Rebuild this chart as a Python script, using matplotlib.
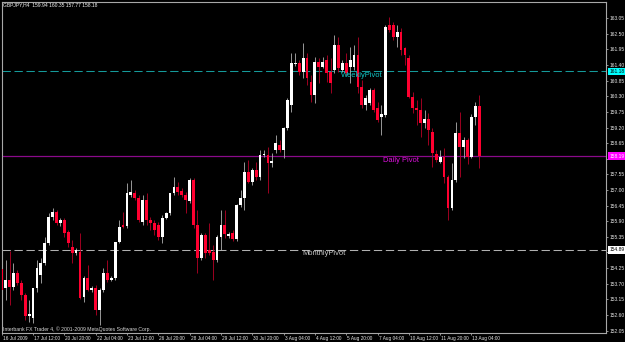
import numpy as np
import matplotlib
matplotlib.use('Agg')
import matplotlib.pyplot as plt
from matplotlib.transforms import ScaledTranslation, blended_transform_factory

# GBPJPY H4 candles (oldest first)
opens = [154.22, 153.55, 153.83, 153.59, 154.08, 153.73, 153.30, 152.56, 152.49, 153.55,
         154.01, 154.43, 155.13, 156.05, 156.23, 155.84, 155.94, 155.52, 154.99, 154.78,
         154.82, 153.23, 153.90, 153.48, 153.55, 152.78, 153.48, 154.08, 153.83, 153.90,
         155.17, 155.77, 155.73, 156.82, 156.90, 156.72, 155.87, 156.65, 155.94, 155.84,
         155.77, 155.35, 156.01, 156.19, 156.90, 157.11, 156.97, 156.82, 156.61, 157.35,
         155.77, 154.61, 155.42, 154.89, 154.82, 154.53, 155.35, 155.77, 155.38, 155.49,
         155.28, 156.47, 156.72, 157.63, 157.28, 157.71, 157.46, 158.23, 158.23, 157.95,
         158.41, 158.59, 158.41, 159.18, 160.00, 161.44, 161.48, 161.16, 161.65, 160.81,
         160.35, 161.51, 161.34, 161.58, 161.16, 161.23, 162.11, 161.23, 161.48, 161.34,
         161.34, 161.76, 160.63, 160.00, 160.07, 160.53, 159.89, 159.57, 159.64, 162.81,
         162.81, 162.39, 162.57, 162.00, 161.65, 160.28, 159.89, 159.82, 159.36, 159.50,
         159.04, 158.27, 157.99, 158.16, 157.46, 156.37, 157.35, 159.01, 158.51, 158.76,
         158.16, 159.57, 159.94]
highs = [154.36, 154.53, 154.85, 154.43, 154.18, 153.83, 153.37, 153.13, 152.70, 154.53,
         154.61, 155.35, 156.19, 156.37, 156.30, 156.01, 156.01, 155.59, 155.24, 154.96,
         155.49, 153.97, 154.36, 153.62, 153.66, 153.55, 154.25, 154.53, 153.97, 154.18,
         155.94, 156.23, 157.25, 157.35, 157.00, 156.82, 156.82, 156.90, 156.05, 155.94,
         155.87, 156.12, 156.23, 156.47, 157.46, 157.28, 157.07, 156.93, 157.42, 157.42,
         156.30, 155.49, 155.49, 155.84, 155.06, 155.42, 156.30, 156.30, 155.52, 155.59,
         156.50, 157.00, 157.99, 158.06, 157.78, 157.99, 158.41, 158.41, 158.51, 158.30,
         158.94, 158.76, 159.22, 160.24, 161.83, 161.83, 161.58, 162.18, 161.83, 161.05,
         161.69, 161.65, 161.69, 161.76, 161.65, 162.46, 162.39, 161.58, 161.83, 162.04,
         162.11, 162.39, 160.88, 160.35, 160.60, 160.60, 160.10, 160.00, 162.81, 163.10,
         162.92, 162.81, 162.71, 162.04, 161.76, 160.45, 160.17, 160.24, 159.82, 159.71,
         159.18, 158.41, 158.41, 158.48, 157.53, 157.95, 159.39, 159.75, 158.87, 158.83,
         159.68, 160.10, 160.35]
lows = [153.41, 153.13, 152.95, 153.48, 153.66, 153.13, 152.42, 152.35, 152.32, 153.41,
        153.73, 154.36, 155.06, 155.94, 155.77, 155.73, 155.35, 154.99, 154.43, 154.71,
        153.17, 153.06, 153.45, 153.41, 152.60, 152.25, 153.41, 153.76, 153.80, 153.83,
        155.13, 155.66, 155.66, 156.75, 156.65, 155.87, 155.77, 155.77, 155.59, 155.42,
        155.24, 155.13, 155.98, 156.12, 156.82, 156.82, 156.75, 156.19, 156.54, 155.66,
        154.08, 154.53, 154.61, 154.71, 153.83, 154.47, 154.89, 155.31, 155.31, 155.20,
        155.20, 156.40, 156.30, 157.25, 157.18, 157.35, 157.35, 158.16, 156.90, 157.81,
        158.30, 158.34, 158.13, 159.11, 159.75, 161.37, 161.05, 160.95, 160.70, 160.10,
        160.07, 160.77, 161.30, 160.81, 160.42, 161.12, 161.16, 161.16, 161.05, 160.77,
        161.23, 160.42, 159.89, 159.82, 160.00, 159.75, 159.39, 158.94, 159.57, 162.57,
        162.29, 162.04, 161.76, 161.41, 160.24, 159.71, 159.29, 158.87, 159.18, 158.59,
        157.81, 157.99, 157.95, 157.25, 155.94, 156.30, 157.28, 157.46, 158.13, 157.92,
        158.13, 159.29, 157.77]
closes = [153.48, 153.83, 153.59, 154.08, 153.73, 153.30, 152.56, 152.63, 153.55, 154.25,
          154.43, 155.13, 156.05, 156.23, 155.84, 155.94, 155.49, 155.13, 154.78, 154.89,
          153.20, 153.90, 153.48, 153.55, 152.78, 153.48, 154.08, 153.83, 153.90, 155.17,
          155.70, 155.70, 156.90, 156.93, 156.72, 155.94, 156.65, 155.94, 155.84, 155.59,
          155.35, 156.01, 156.19, 156.90, 157.11, 156.93, 156.82, 156.65, 157.35, 155.77,
          154.61, 155.42, 154.78, 154.78, 154.53, 155.35, 155.77, 155.45, 155.45, 155.28,
          156.47, 156.72, 157.63, 157.28, 157.71, 157.46, 158.23, 158.27, 157.95, 158.02,
          158.66, 158.41, 159.18, 160.17, 161.48, 161.48, 161.16, 161.65, 160.95, 160.35,
          161.51, 161.34, 161.51, 161.12, 160.77, 162.11, 161.30, 161.48, 161.12, 161.58,
          161.76, 160.63, 160.00, 160.24, 160.53, 159.82, 159.47, 159.68, 162.74, 162.64,
          162.39, 162.57, 161.93, 161.76, 160.28, 159.89, 159.82, 159.36, 159.50, 159.11,
          158.30, 158.06, 158.16, 157.46, 156.37, 157.35, 159.01, 158.51, 158.76, 158.16,
          159.57, 159.96, 158.18]

# bar index -> time label (every 8 bars)
xtick_bars = [0, 8, 16, 24, 32, 40, 48, 56, 64, 72, 80, 88, 96, 104, 112, 120]
xtick_labels = ['16 Jul 2009', '17 Jul 12:00', '20 Jul 20:00', '22 Jul 04:00', '23 Jul 12:00',
                '26 Jul 20:00', '28 Jul 04:00', '29 Jul 12:00', '30 Jul 20:00', '3 Aug 04:00',
                '4 Aug 12:00', '5 Aug 20:00', '7 Aug 04:00', '10 Aug 12:00', '11 Aug 20:00',
                '13 Aug 04:00']
price_ticks = [152.05 + 0.55 * k for k in range(21)]

weekly_pivot = 161.18
daily_pivot = 158.19
monthly_pivot = 154.89

header = 'GBPJPY,H4  159.94 160.35 157.77 158.18'
copyright_txt = 'Interbank FX Trader 4, \u00a9 2001-2009 MetaQuotes Software Corp.'

BULL = '#ffffff'
BEAR = '#ff0030'
AXC = '#a8a8a8'
small_font = 'Liberation Sans'

fig = plt.figure(figsize=(6.25, 3.42), dpi=100, facecolor='black')
ax = fig.add_axes([1.7 / 625, 1 - 333 / 342, (606 - 1.7) / 625, (333 - 1.5) / 342])
ax.set_facecolor('black')

o = np.array(opens)
h = np.array(highs)
l = np.array(lows)
c = np.array(closes)
idx = np.arange(len(o))
up = c >= o

# wicks
ax.vlines(idx[up], l[up], h[up], color='#b0b0b0', lw=0.6, zorder=2)
ax.vlines(idx[~up], l[~up], h[~up], color='#b80026', lw=0.6, zorder=2)
# bodies
body_bottom = np.minimum(o, c)
body_height = np.maximum(np.abs(c - o), 0.04)
ax.bar(idx[up], body_height[up], bottom=body_bottom[up], width=0.72, color=BULL,
       linewidth=0, zorder=3)
ax.bar(idx[~up], body_height[~up], bottom=body_bottom[~up], width=0.72, color=BEAR,
       linewidth=0, zorder=3)

# pivot lines
ax.axhline(weekly_pivot, color='#159a9a', lw=0.75, ls=(0, (8, 3.5)), zorder=1)
ax.axhline(daily_pivot, color='#8a0a8a', lw=0.9, zorder=1)
ax.axhline(monthly_pivot, color='#b0b0b0', lw=0.75, ls=(0, (8, 3.5)), zorder=1)

ax.text(86.6, weekly_pivot - 0.02, 'WeeklyPivot', color='#10c8c8', fontsize=5.4,
        family=small_font, va='top', ha='left', zorder=4)
ax.text(97.4, daily_pivot - 0.02, 'Daily Pivot', color='#e010e0', fontsize=5.4,
        family=small_font, va='top', ha='left', zorder=4)
ax.text(76.7, monthly_pivot - 0.02, 'MonthlyPivot', color='#c8c8c8', fontsize=5.4,
        family=small_font, va='top', ha='left', zorder=4)

ax.set_xlim(0.2, 154.36)
ax.set_ylim(151.965, 163.637)

for sp in ax.spines.values():
    sp.set_color(AXC)
    sp.set_linewidth(0.8)

# labels hidden behind the pivot price boxes are left blank
pivots = [weekly_pivot, daily_pivot, monthly_pivot]
ytick_labels = ['' if min(abs(p - v) for v in pivots) < 0.12 else '%.2f' % p
                for p in price_ticks]

ax.yaxis.tick_right()
ax.set_yticks(price_ticks)
ax.set_yticklabels(ytick_labels)
ax.tick_params(axis='y', colors=AXC, labelcolor='#e8e8e8', length=1.6, width=0.6,
               pad=1.2, labelsize=3.5)
ax.set_xticks(xtick_bars)
ax.set_xticklabels(xtick_labels, ha='left')
ax.tick_params(axis='x', colors=AXC, labelcolor='#e8e8e8', length=1.6, width=0.6,
               pad=0.6, labelsize=3.4)
for lab in ax.get_xticklabels() + ax.get_yticklabels():
    lab.set_family(small_font)
for lab in ax.get_xticklabels():
    lab.set_transform(lab.get_transform() + ScaledTranslation(1 / 100, 0, fig.dpi_scale_trans))

# price boxes on the right scale
tr = blended_transform_factory(ax.transAxes, ax.transData)
for val, bg, fg in [(weekly_pivot, '#00ffff', '#000000'),
                    (daily_pivot, '#ff00ff', '#ffffff'),
                    (monthly_pivot, '#ffffff', '#000000')]:
    ax.text(1.006, val, '%.2f' % val, transform=tr, color=fg, fontsize=3.5,
            family=small_font, va='center', ha='left', clip_on=False, zorder=10,
            bbox=dict(boxstyle='square,pad=0.25', facecolor=bg, edgecolor='none'))

fig.text(3 / 625, 1 - 2.5 / 342, header, color='#f0f0f0', fontsize=3.6,
         family=small_font, va='top', ha='left')
fig.text(2.7 / 625, 1 - 330.8 / 342, copyright_txt, color='#d8d8d8', fontsize=3.7,
         family=small_font, va='baseline', ha='left')

fig.savefig('out.png', dpi=100, facecolor='black')
